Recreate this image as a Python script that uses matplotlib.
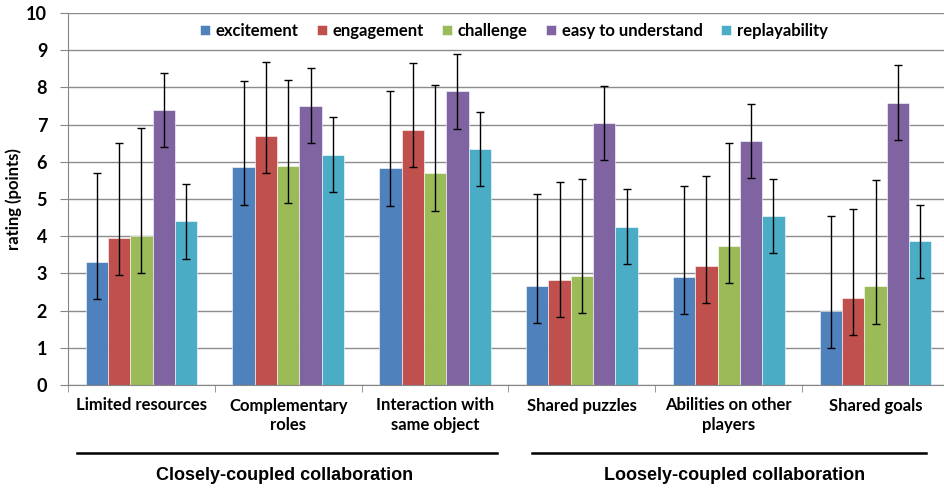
import numpy as np
import matplotlib
matplotlib.use("Agg")
import matplotlib.pyplot as plt

categories = ["Limited resources", "Complementary\nroles", "Interaction with\nsame object",
              "Shared puzzles", "Abilities on other\nplayers", "Shared goals"]
series = ["excitement", "engagement", "challenge", "easy to understand", "replayability"]
colors = ["#4F81BD", "#C0504D", "#9BBB59", "#8064A2", "#4BACC6"]

# mean ratings per series (one value per category)
excitement = [3.3, 5.85, 5.82, 2.67, 2.91, 2.0]
engagement = [3.95, 6.7, 6.86, 2.82, 3.2, 2.35]
challenge = [4.0, 5.89, 5.69, 2.93, 3.73, 2.65]
easy = [7.39, 7.51, 7.89, 7.04, 6.56, 7.59]
replay = [4.4, 6.19, 6.35, 4.26, 4.55, 3.87]

# error bar ends (upper end of each bar)
excitement_hi = [5.7, 8.17, 7.89, 5.13, 5.34, 4.53]
engagement_hi = [6.5, 8.68, 8.65, 5.47, 5.61, 4.73]
challenge_hi = [6.91, 8.21, 8.06, 5.55, 6.5, 5.5]
easy_hi = [8.39, 8.51, 8.89, 8.03, 7.56, 8.59]
replay_hi = [5.4, 7.2, 7.35, 5.26, 5.55, 4.85]
lower_err = 1.0

groups = ["Closely-coupled collaboration", "Loosely-coupled collaboration"]

means = [excitement, engagement, challenge, easy, replay]
highs = [excitement_hi, engagement_hi, challenge_hi, easy_hi, replay_hi]

fig = plt.figure(figsize=(9.44, 4.88), dpi=100)
ax = fig.add_axes([68 / 944, 1 - 385 / 488, 881 / 944, 372 / 488])

x = np.arange(len(categories))
w = 0.152
for i, (name, m, hi, c) in enumerate(zip(series, means, highs, colors)):
    m = np.array(m)
    hi = np.array(hi)
    yerr = [np.full(len(m), lower_err), hi - m]
    ax.bar(x + (i - 2) * w, m, w, color=c, edgecolor="white", linewidth=0.4, label=name, zorder=2)
    ax.errorbar(x + (i - 2) * w, m, yerr=yerr, fmt="none", ecolor="black",
                elinewidth=1, capsize=3, capthick=1, zorder=3)

ax.set_xlim(-0.5, 5.5)
ax.set_ylim(0, 10)
ax.set_yticks(range(11))
ax.yaxis.grid(True, color="#8c8c8c", linewidth=1)
ax.set_axisbelow(True)
for s in ["top", "right"]:
    ax.spines[s].set_visible(False)
ax.spines["left"].set_color("#868686")
ax.spines["bottom"].set_color("#868686")

ax.tick_params(axis="y", length=6, color="#868686", pad=9)
for lbl in ax.get_yticklabels():
    lbl.set_fontfamily(["Lato", "DejaVu Sans"])
    lbl.set_fontweight("bold")
    lbl.set_fontsize(13)

ax.set_xticks(x)
ax.set_xticklabels(categories, family=["Lato", "DejaVu Sans"], fontweight="bold",
                   fontsize=12, linespacing=1.3)
ax.set_xticks(np.arange(-0.5, 6, 1), minor=True)
ax.tick_params(axis="x", which="major", length=0, pad=9)
ax.tick_params(axis="x", which="minor", length=5, color="#868686")

ax.set_ylabel("rating (points)", family=["Lato", "DejaVu Sans"], fontweight="bold",
              fontsize=12)
ax.yaxis.set_label_coords(-(68 - 22) / 881, 0.5)

leg = ax.legend(loc="center", bbox_to_anchor=(0.506, 0.952), ncol=5, frameon=False,
                prop={"family": "Lato", "weight": "bold", "size": 12},
                handlelength=0.6, handleheight=0.6, handletextpad=0.35, columnspacing=1.1)

# group bracket lines and labels below the category labels
trans = ax.get_xaxis_transform()
line_y = (385 - 453) / 372
text_y = (385 - 475) / 372
ax.plot([-0.44, 2.42], [line_y, line_y], color="black", lw=1.8, transform=trans, clip_on=False)
ax.plot([2.66, 5.34], [line_y, line_y], color="black", lw=1.8, transform=trans, clip_on=False)
ax.text(0.976, text_y, groups[0], transform=trans, ha="center", va="center",
        family="Liberation Sans", fontweight="bold", fontsize=13)
ax.text(4.04, text_y, groups[1], transform=trans, ha="center", va="center",
        family="Liberation Sans", fontweight="bold", fontsize=13)

fig.savefig("out.png", dpi=100)
